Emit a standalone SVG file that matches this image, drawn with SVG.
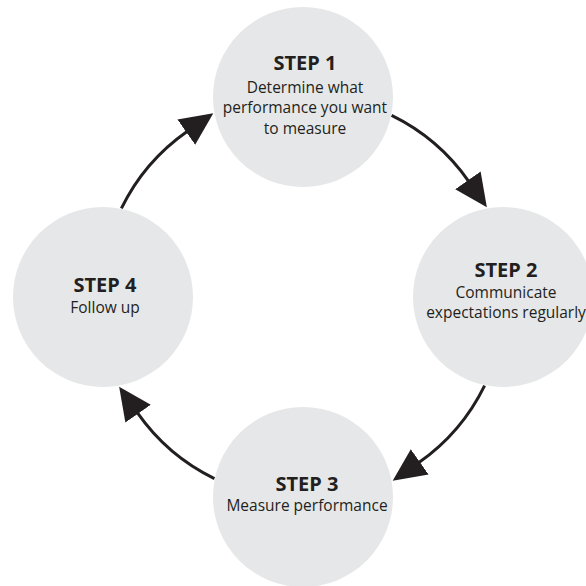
<svg xmlns="http://www.w3.org/2000/svg" width="586" height="586" viewBox="0 0 586 586">
  <style>
    .node circle { fill: #e6e7e8; }
    .title { font-family: "Open Sans", "Liberation Sans", sans-serif; font-weight: 700; font-size: 20px; fill: #231f20; text-anchor: middle; }
    .body { font-family: "Open Sans", "Liberation Sans", sans-serif; font-size: 15.5px; fill: #231f20; text-anchor: middle; }
    .conn path { fill: none; stroke: #231f20; stroke-width: 3; marker-end: url(#ah); }
  </style>
  <defs>
    <marker id="ah" markerUnits="userSpaceOnUse" viewBox="0 0 33 31" markerWidth="33" markerHeight="31" refX="1" refY="15.5" orient="auto">
      <path d="M0,0 L33,15.5 L0,31 z" fill="#231f20"/>
    </marker>
  </defs>
  <rect width="586" height="586" fill="#ffffff"/>
  <g id="step1" class="node">
    <circle cx="303" cy="97" r="90"/>
    <text class="title" x="305" y="70">STEP 1</text>
    <text class="body" x="305" y="92.5">Determine what</text>
    <text class="body" x="305" y="113">performance you want</text>
    <text class="body" x="305" y="133.5">to measure</text>
  </g>
  <g id="step2" class="node">
    <circle cx="503" cy="297" r="90"/>
    <text class="title" x="506" y="277">STEP 2</text>
    <text class="body" x="506" y="298">Communicate</text>
    <text class="body" x="506" y="318">expectations regularly</text>
  </g>
  <g id="step3" class="node">
    <circle cx="303" cy="497" r="90"/>
    <text class="title" x="307" y="491">STEP 3</text>
    <text class="body" x="307" y="511">Measure performance</text>
  </g>
  <g id="step4" class="node">
    <circle cx="103" cy="297" r="90"/>
    <text class="title" x="105" y="292">STEP 4</text>
    <text class="body" x="105" y="312.5">Follow up</text>
  </g>
  <g id="connectors" class="conn">
    <path d="M391.6,115.4 A202,202 0 0 1 468.5,181.1"/>
    <path d="M484.6,385.6 A202,202 0 0 1 418.9,462.5"/>
    <path d="M214.4,478.6 A202,202 0 0 1 137.5,412.9"/>
    <path d="M121.4,208.4 A202,202 0 0 1 187.1,131.5"/>
  </g>
</svg>
